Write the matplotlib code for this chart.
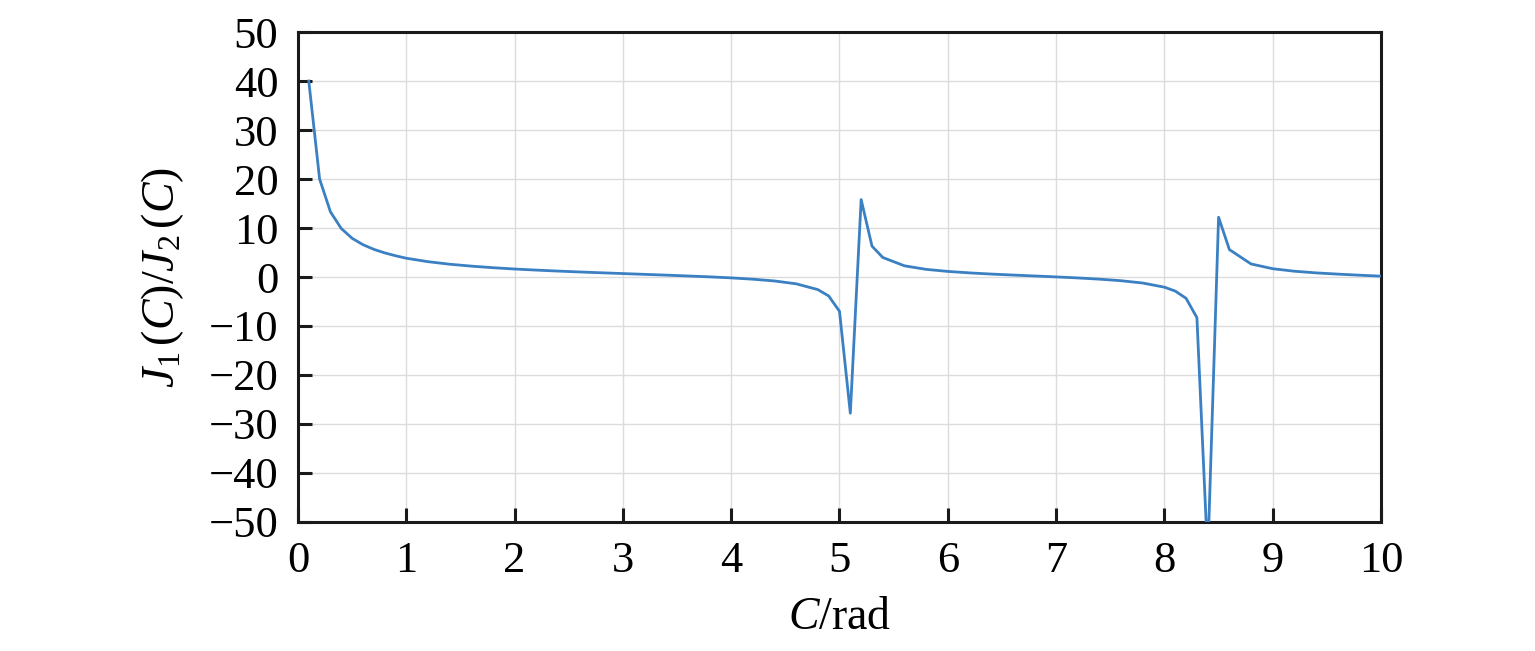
import matplotlib
matplotlib.use("Agg")
import matplotlib.pyplot as plt

# フォント設定 (Times系の代わり)
plt.rcParams['font.family'] = ['Liberation Serif', 'DejaVu Serif']
plt.rcParams['mathtext.fontset'] = 'custom'
plt.rcParams['mathtext.rm'] = 'Liberation Serif'
plt.rcParams['mathtext.it'] = 'Liberation Serif:italic'

# 図から読み取った値
c_rad = [0.1, 0.2, 0.3, 0.4, 0.5, 0.6, 0.7, 0.8, 0.9, 1.0,
         1.2, 1.4, 1.6, 1.8, 2.0, 2.2, 2.4, 2.6, 2.8, 3.0,
         3.2, 3.4, 3.6, 3.8, 4.0, 4.2, 4.4, 4.6, 4.8, 4.9,
         5.0, 5.1, 5.2, 5.3, 5.4, 5.6, 5.8, 6.0, 6.2, 6.4,
         6.6, 6.8, 7.0, 7.2, 7.4, 7.6, 7.8, 8.0, 8.1, 8.2,
         8.3, 8.4, 8.5, 8.6, 8.8, 9.0, 9.2, 9.4, 9.6, 9.8, 10.0]
ratio = [40.0, 20.0, 13.3, 9.9, 7.9, 6.6, 5.65, 4.93, 4.34, 3.83,
         3.13, 2.61, 2.22, 1.90, 1.63, 1.41, 1.21, 1.03, 0.86, 0.70,
         0.54, 0.38, 0.21, 0.03, -0.18, -0.45, -0.81, -1.39, -2.57, -3.87,
         -7.0, -27.8, 15.8, 6.3, 3.98, 2.28, 1.56, 1.14, 0.84, 0.60,
         0.40, 0.21, 0.02, -0.19, -0.44, -0.76, -1.23, -2.08, -2.87, -4.35,
         -8.3, -57.3, 12.2, 5.59, 2.66, 1.69, 1.18, 0.84, 0.59, 0.37, 0.17]

x_ticks = list(range(0, 11))
y_ticks = list(range(-50, 51, 10))

fig = plt.figure(figsize=(15.35, 6.51), dpi=100)
ax = fig.add_axes([0.1941, 0.1982, 0.7056, 0.7526])

ax.plot(c_rad, ratio, color='#3a80c2', linewidth=2.0, zorder=3)

ax.set_xlim(0, 10)
ax.set_ylim(-50, 50)
ax.set_xticks(x_ticks)
ax.set_yticks(y_ticks)
ax.set_yticklabels(['\u2212' + str(-v) if v < 0 else str(v) for v in y_ticks])

# グリッドと枠線
ax.grid(True, color='#dcdcdc', linewidth=1.0, zorder=0)
for sp in ax.spines.values():
    sp.set_linewidth(2.2)
    sp.set_color('#1a1a1a')

ax.tick_params(direction='in', length=10, width=2.2, color='#1a1a1a',
               labelsize=32, pad=14, top=False, right=False)

ax.set_xlabel(r'$C$/rad', fontsize=33, labelpad=11)
ax.set_ylabel(r'$J_1\,(C)/J_2\,(C)$', fontsize=33, labelpad=16)

fig.savefig('out.png', dpi=100)
